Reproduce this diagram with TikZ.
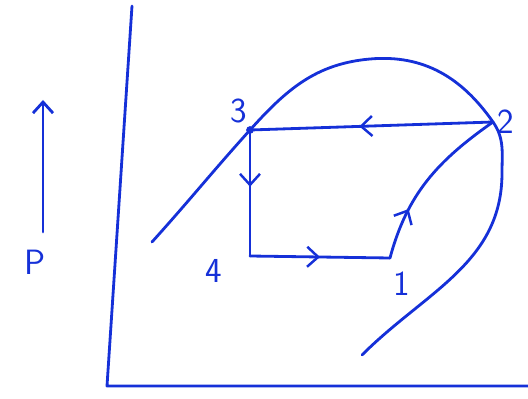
\documentclass[tikz,border=0pt]{standalone}
\usepackage{tikz}
\usetikzlibrary{positioning,arrows.meta,decorations.markings}
\usepackage{xcolor}
\definecolor{pen}{HTML}{1530D8}

\begin{document}
\begin{tikzpicture}[line width=1.6pt, draw=pen, line cap=round, line join=round,
    lbl/.style={text=pen, font=\sffamily\fontsize{20}{24}\selectfont, inner sep=1pt},
    midarr/.style={postaction={decorate, decoration={markings,
        mark=at position #1 with {\arrow[pen, line width=1.4pt]{Straight Barb[length=2.2mm, width=4mm]}}}}}]
    \useasboundingbox (0,0) rectangle (10.56,7.96);
    % axes
    \coordinate (ytop) at (2.64,7.84);
    \coordinate (org) at (2.14,0.24);
    \coordinate (xend) at (10.56,0.24);
    \draw[pen] (ytop) -- (org) -- (xend);
    % state points
    \coordinate (p3) at (5.0,5.36);
    \coordinate (p2) at (9.86,5.52);
    \coordinate (p4) at (5.0,2.84);
    \coordinate (p1) at (7.8,2.80);
    \coordinate (lo) at (3.04,3.12);
    \coordinate (top) at (7.4,6.78);
    \coordinate (rgt) at (10.04,4.5);
    \coordinate (hi) at (7.24,0.86);
    % saturation dome
    \draw[pen] (lo) to[out=48,in=228] (p3) to[out=48,in=185] (top)
        to[out=5,in=125] (p2) to[out=-55,in=90] (rgt) to[out=-90,in=45] (hi);
    % cycle
    \draw[pen, midarr=0.55] (p2) -- (p3);
    \draw[pen, midarr=0.45] (p3) -- (p4);
    \draw[pen, midarr=0.5] (p4) -- (p1);
    \draw[pen, midarr=0.3] (p1) to[out=75,in=215] (p2);
    \fill[pen] (p3) circle (2.2pt);
    % labels
    \node[lbl, above left=2pt and 0pt of p3] (l3) {3};
    \node[lbl, right=1pt of p2] (l2) {2};
    \node[lbl, below left=0pt and 14pt of p4] (l4) {4};
    \node[lbl, below right=6pt and 0pt of p1] (l1) {1};
    % pressure axis
    \coordinate (pbot) at (0.86,3.32);
    \coordinate (ptop) at (0.86,5.96);
    \draw[pen, -{Straight Barb[length=2.2mm, width=4mm]}] (pbot) -- (ptop);
    \node[lbl] (pl) at (0.7,2.72) {P};
\end{tikzpicture}
\end{document}
